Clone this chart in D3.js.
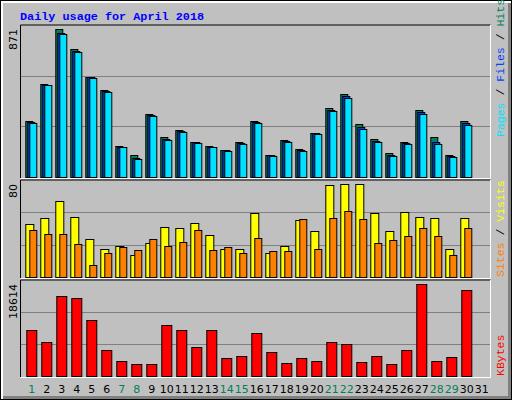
<!DOCTYPE html><html><head><meta charset="utf-8">
<script src="https://cdn.jsdelivr.net/npm/d3@7"></script>
<style>body{margin:0;background:#fff}</style></head><body>
<script>
const days=d3.range(1,32);
const weekend=[1,7,8,14,15,21,22,28,29];
const hits=[332,549,871,755,590,514,180,131,373,233,279,208,184,161,208,332,131,220,167,261,408,490,314,226,143,208,396,237,131,332];
const files=[324,545,850,744,587,507,177,112,365,224,271,204,178,157,200,324,128,212,159,257,396,475,296,212,131,200,381,208,124,316];
const pages=[320,543,844,740,585,504,175,108,361,220,267,202,175,155,196,320,126,208,155,255,390,467,284,208,126,196,373,196,120,308];
const visits=[45.3,50.6,65.3,51.4,32.4,23.7,26.3,18.5,28.9,42.8,41.9,46.2,35.8,23.7,23.7,54.9,20.3,26.3,48.9,39.3,79.2,80,80,54.9,39.3,55.7,51.4,50.6,23.7,50.6];
const sites=[40.2,36.6,36.6,28,10.7,20.3,25.4,22.8,32.4,26.3,29.8,40.2,22.8,25.4,20.3,33.2,22,22,49.7,23.7,50.6,56.6,49.7,28.9,31.5,34.9,41.9,34.9,18.5,41.9];
const kbytes=[9239,6997,16168,15760,11276,5366,3125,2513,2513,10257,9239,5978,9239,3736,4144,8627,4959,2717,3736,3125,6997,6589,2921,4144,2513,5366,18614,3125,3940,17390];
const maxLabels=["871","80","18614"];

const W=512,H=400;
const svg=d3.select("body").append("svg").attr("width",W).attr("height",H);
svg.append("rect").attr("width",W).attr("height",H).attr("fill","#000");
svg.append("rect").attr("x",1).attr("y",1).attr("width",W-2).attr("height",H-2).attr("fill","#fff");
svg.append("rect").attr("x",3).attr("y",3).attr("width",W-4).attr("height",H-4).attr("fill","#808080");
svg.append("rect").attr("x",3).attr("y",3).attr("width",W-7).attr("height",H-7).attr("fill","#c0c0c0");

svg.append("text").attr("x",20).attr("y",20).text("Daily usage for April 2018")
 .attr("font-family","Liberation Mono").attr("font-weight","bold").attr("font-size",11.8).attr("fill","#0000ff");

const x=d3.scaleBand().domain(days).range([24.3,489.3]);
const L=20.5,R=490.5;
const panels=[{t:25,b:177,top:29.3,max:871},{t:180,b:277,top:184,max:80},{t:280,b:376,top:284.3,max:18614}];
panels.forEach((p,i)=>{
  const y=d3.scaleLinear().domain([0,p.max]).range([p.b,p.top]);
  p.y=y;
  // frame
  svg.append("path").attr("d",`M${L},${p.b+1}V${p.t}H${R}`).attr("stroke","#000").attr("fill","none");
  svg.append("path").attr("d",`M${L},${p.b+1.5}H${R}V${p.t}`).attr("stroke","#fff").attr("fill","none");
  const h=p.b-p.t;
  [1/3,2/3].forEach(f=>{
    const gy=Math.round(p.b-h*f*((p.b-p.t)/(p.b-p.t)))+0.5;
    svg.append("line").attr("x1",L+0.5).attr("x2",R-0.5).attr("y1",gy).attr("y2",gy).attr("stroke","#808080");
  });
  svg.append("text").attr("transform",`translate(17,${p.t+4}) rotate(-90)`).attr("text-anchor","end")
   .attr("font-family","DejaVu Sans").attr("font-size",11).attr("fill","#000").text(maxLabels[i]);
});
// fix gridlines for panels at measured positions
function bars(data,yS,off,w,fill){
  svg.append("g").selectAll("rect").data(data).join("rect")
   .attr("x",(d,i)=>x(days[i])+off+0.5).attr("y",d=>Math.round(yS(d))+0.5)
   .attr("width",w).attr("height",d=>Math.max(0,yS(0)-Math.round(yS(d))))
   .attr("fill",fill).attr("stroke","#000").attr("stroke-width",1);
}
const p0=panels[0],p1=panels[1],p2=panels[2];
bars(hits,p0.y,1,7,"#00805c");
bars(files,p0.y,3,7,"#0040ff");
bars(pages,p0.y,5,7,"#00e0ff");
bars(visits,p1.y,1,8,"#ffff00");
bars(sites,p1.y,5,7,"#ff8000");
bars(kbytes,p2.y,2,10,"#ff0000");

svg.append("g").selectAll("text").data(days).join("text")
 .attr("x",d=>x(d)+7.5).attr("y",393).attr("text-anchor","middle")
 .attr("font-family","DejaVu Sans").attr("font-size",11)
 .attr("fill",d=>weekend.includes(d)?"#00805c":"#000").text(d=>d);

function side(parts,yb){
  const t=svg.append("text").attr("transform",`translate(504,${yb}) rotate(-90)`)
   .attr("font-family","Liberation Mono").attr("font-size",11.5);
  parts.forEach(([s,c])=>t.append("tspan").attr("fill",c).text(s));
}
side([["Pages","#00e0ff"],[" / ","#000"],["Files","#0040ff"],[" / ","#000"],["Hits","#00805c"]],137);
side([["Sites","#ff8000"],[" / ","#000"],["Visits","#ffff00"]],277);
side([["KBytes","#ff0000"]],376);
</script></body></html>
